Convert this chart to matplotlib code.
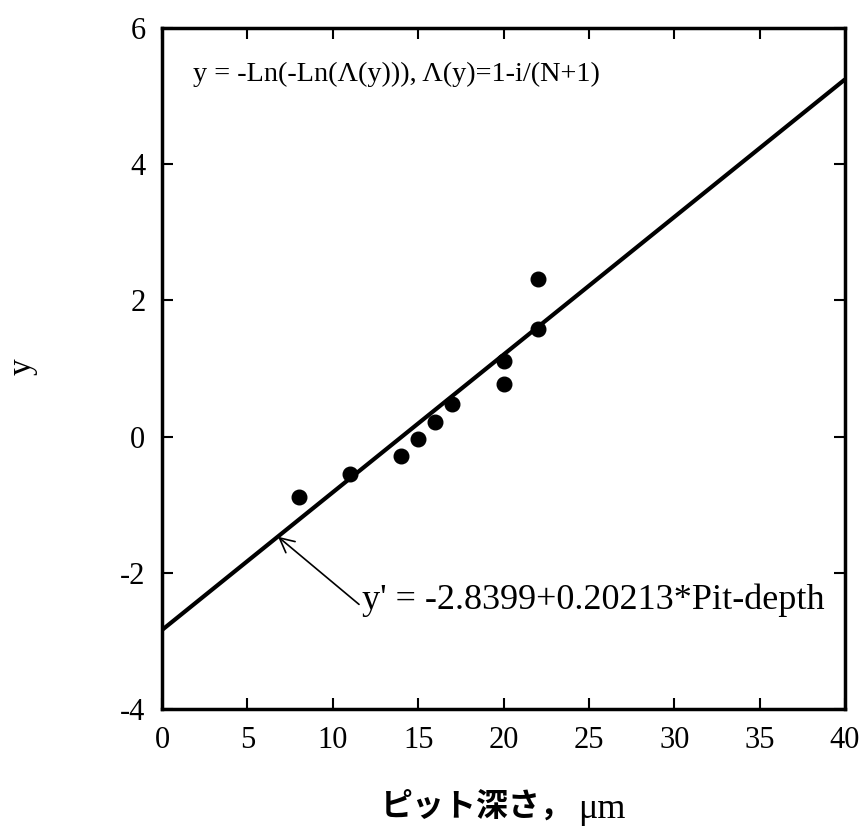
import matplotlib
matplotlib.use("Agg")
import matplotlib.pyplot as plt
import numpy as np

pit_depth = [8, 11, 14, 15, 16, 17, 20, 20, 22, 22]
y_values = [-0.89, -0.55, -0.28, -0.04, 0.21, 0.48, 0.77, 1.11, 1.58, 2.31]
fit_intercept = -2.8399
fit_slope = 0.20213
x_ticks = [0, 5, 10, 15, 20, 25, 30, 35, 40]
y_ticks = [-4, -2, 0, 2, 4, 6]

plt.rcParams['font.family'] = ['Liberation Serif', 'DejaVu Serif']
plt.rcParams['axes.unicode_minus'] = False

fig = plt.figure(figsize=(8.67, 8.33), dpi=100)
ax = fig.add_axes([0.1869, 0.1489, 0.7877, 0.8175])

xs = np.array([0, 40])
ax.plot(xs, fit_intercept + fit_slope * xs, color='black', lw=3.0, solid_capstyle='butt')
ax.plot(pit_depth, y_values, 'o', color='black', ms=10.5)

ax.set_xlim(0, 40)
ax.set_ylim(-4, 6)
ax.set_xticks(x_ticks)
ax.set_yticks(y_ticks)
ax.tick_params(direction='in', length=8, width=1.5, labelsize=22, pad=12,
               top=True, right=True)
for s in ax.spines.values():
    s.set_linewidth(2.5)

ax.text(1.8, 5.32, "y = -Ln(-Ln(\u039b(y))), \u039b(y)=1-i/(N+1)", fontsize=20.3,
        va='center', ha='left')
ax.annotate("y' = -2.8399+0.20213*Pit-depth", xy=(6.79, -1.47), xytext=(11.7, -2.4),
            fontsize=26, va='center', ha='left',
            arrowprops=dict(arrowstyle='->', color='black', lw=1.2,
                            shrinkA=0, shrinkB=0, relpos=(0, 0.3)))

fig.text(22/867, 1-367/833, "y", fontsize=24, rotation=90, va='center', ha='center')
fig.text(477/867, 1-808/833, "ピット深さ，", fontsize=23, family=['Noto Sans CJK JP'],
         fontweight='bold', va='center', ha='center')
fig.text(602/867, 1-810/833, "\u03bcm", fontsize=26, va='center', ha='center')

fig.savefig("out.png", dpi=100)
